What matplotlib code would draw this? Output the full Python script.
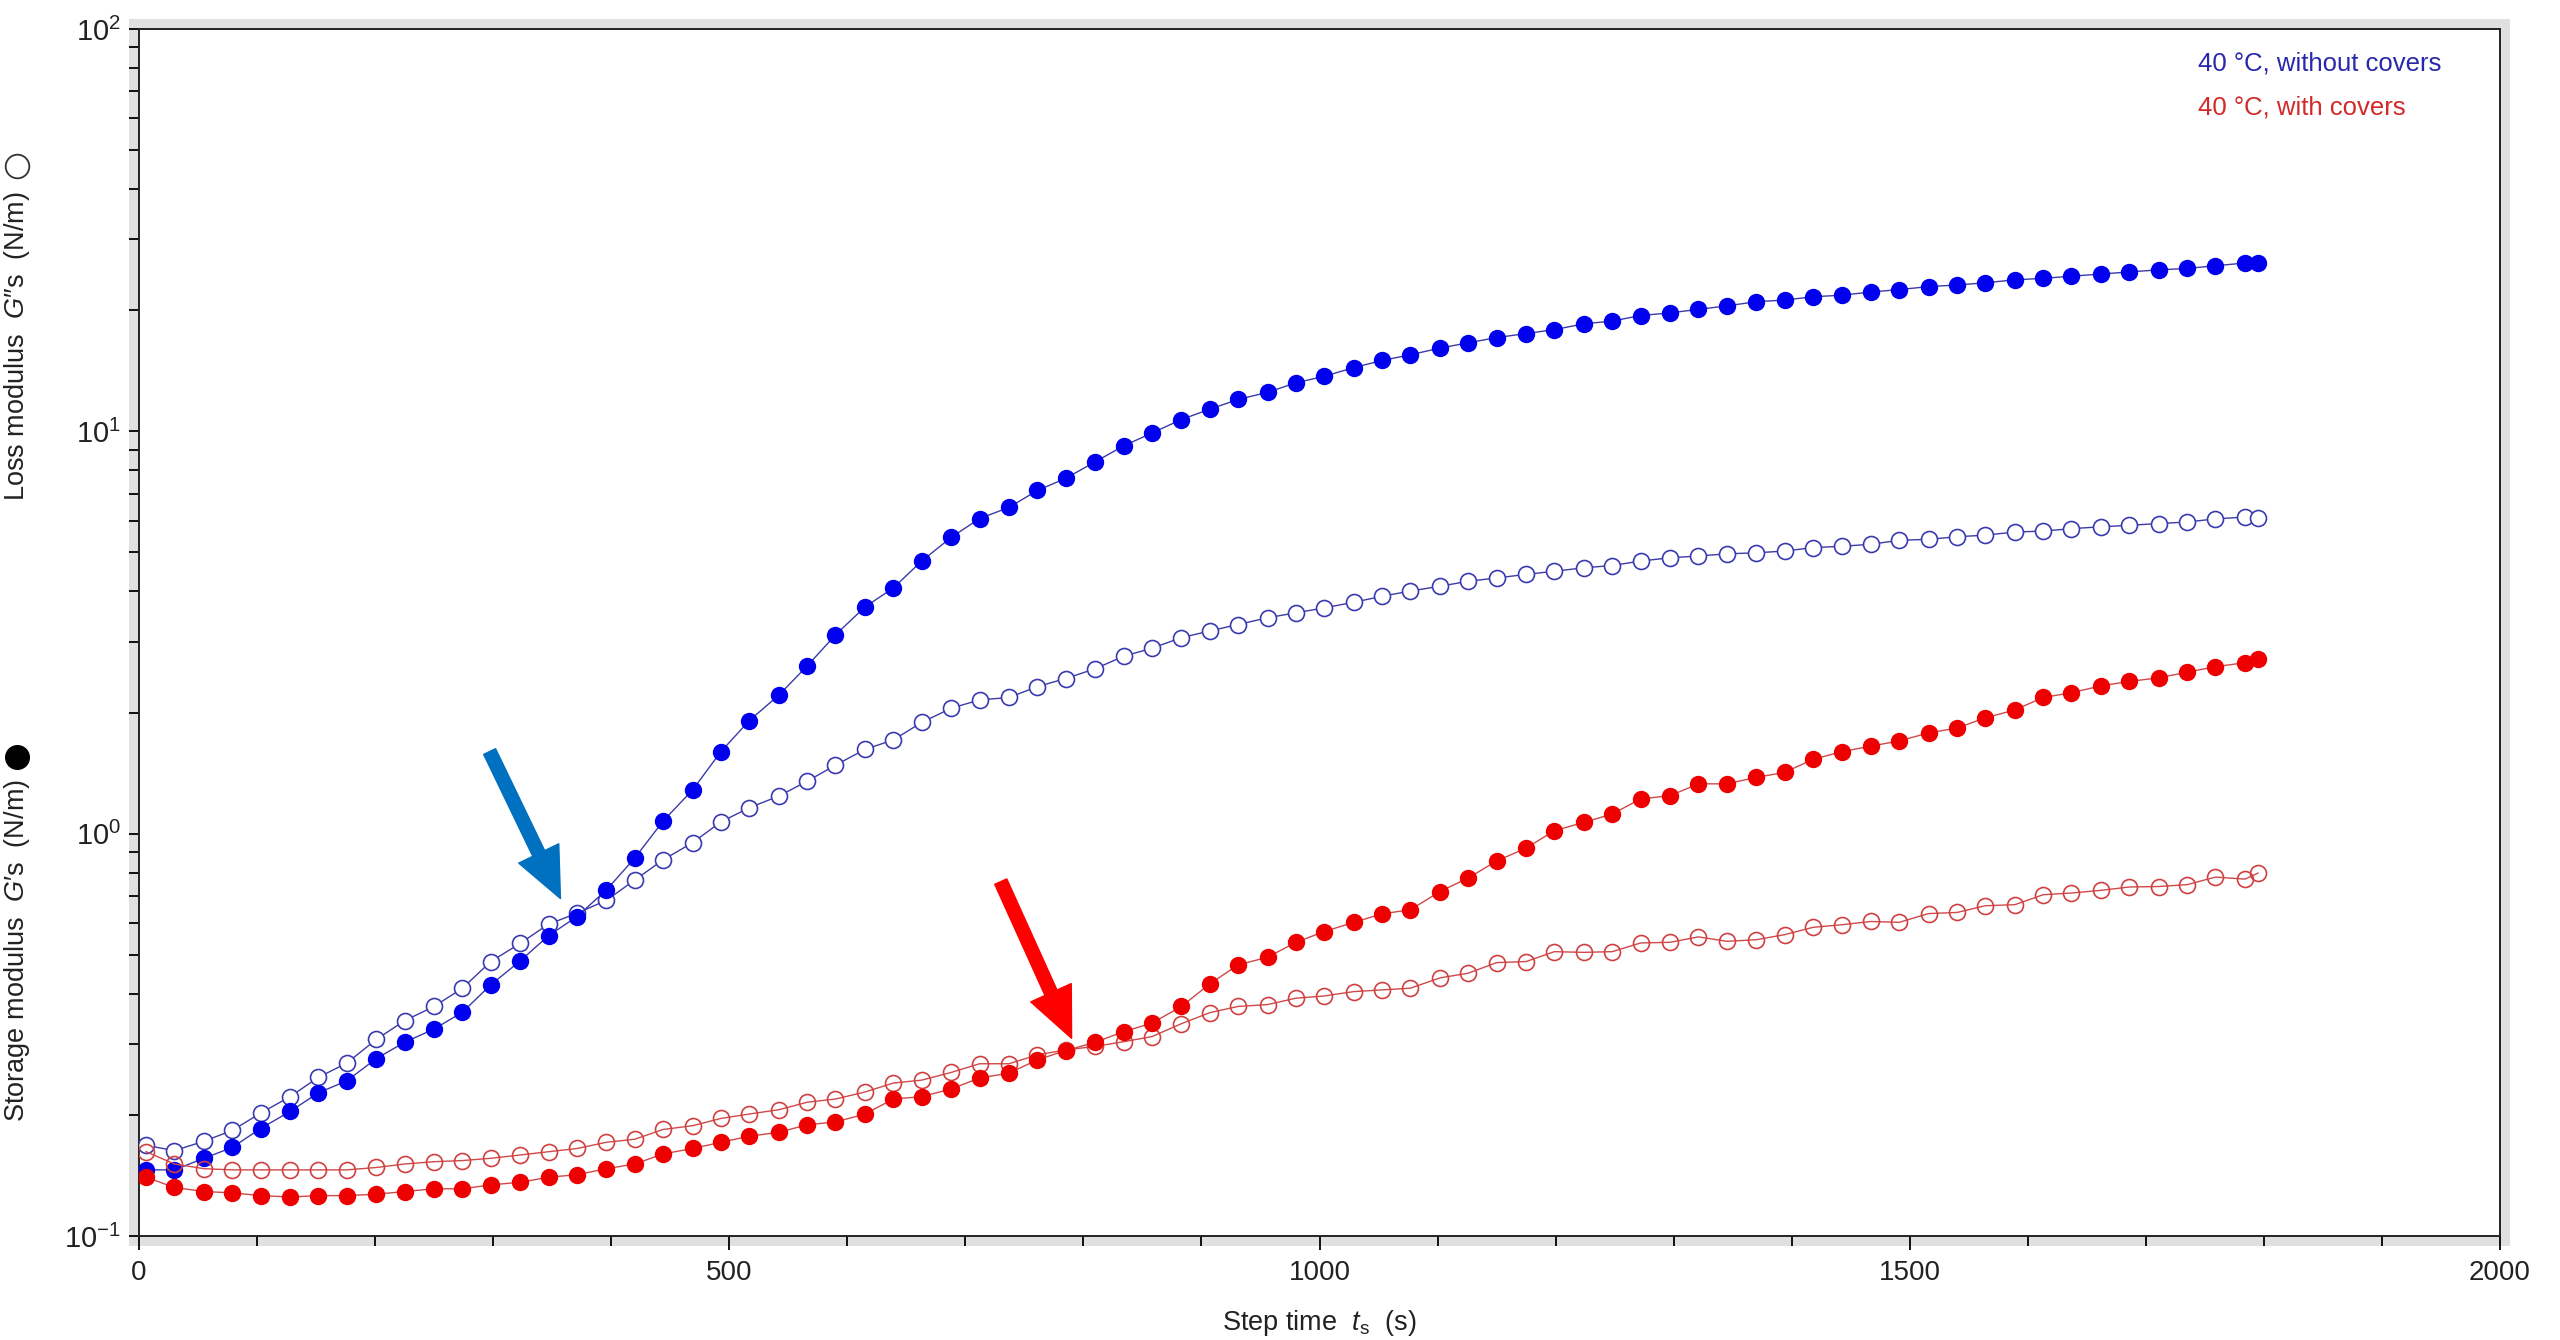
import math
import matplotlib
matplotlib.use('Agg')
import matplotlib.pyplot as plt
from matplotlib import font_manager
from matplotlib.patches import Rectangle, FancyArrowPatch, ArrowStyle
from matplotlib.lines import Line2D
from matplotlib.ticker import LogLocator, MultipleLocator, FixedLocator, FuncFormatter, NullFormatter

# step time (s)
t = [6, 30, 55, 79, 103, 128, 152, 176, 201, 225,
     250, 274, 298, 323, 347, 371, 396, 420, 444, 469,
     493, 517, 542, 566, 590, 615, 639, 663, 688, 712,
     737, 761, 785, 810, 834, 858, 883, 907, 931, 956,
     980, 1004, 1029, 1053, 1077, 1102, 1126, 1150, 1175, 1199,
     1224, 1248, 1272, 1297, 1321, 1345, 1370, 1394, 1418, 1443,
     1467, 1491, 1516, 1540, 1564, 1589, 1613, 1637, 1662, 1686,
     1711, 1735, 1759, 1784, 1795]

# 40 C without covers
blue_storage = [0.146, 0.146, 0.156, 0.166, 0.185, 0.204, 0.227, 0.243, 0.276, 0.303,
                0.327, 0.360, 0.421, 0.483, 0.558, 0.622, 0.725, 0.870, 1.075, 1.285,
                1.60, 1.91, 2.21, 2.61, 3.12, 3.66, 4.08, 4.76, 5.45, 6.07,
                6.47, 7.13, 7.64, 8.40, 9.2, 9.9, 10.7, 11.35, 12.0, 12.5,
                13.2, 13.7, 14.4, 15.0, 15.5, 16.1, 16.6, 17.1, 17.5, 17.9,
                18.5, 18.8, 19.4, 19.7, 20.1, 20.5, 21.0, 21.2, 21.6, 21.8,
                22.2, 22.5, 22.9, 23.1, 23.4, 23.8, 24.0, 24.3, 24.6, 24.9,
                25.2, 25.4, 25.8, 26.2, 26.2]
blue_loss = [0.168, 0.163, 0.172, 0.183, 0.202, 0.222, 0.248, 0.269, 0.308, 0.343,
             0.372, 0.413, 0.481, 0.534, 0.596, 0.634, 0.683, 0.767, 0.861, 0.950,
             1.07, 1.16, 1.24, 1.35, 1.48, 1.62, 1.71, 1.89, 2.05, 2.15,
             2.18, 2.32, 2.43, 2.57, 2.76, 2.89, 3.07, 3.19, 3.31, 3.44,
             3.54, 3.64, 3.76, 3.89, 4.01, 4.12, 4.24, 4.32, 4.41, 4.49,
             4.58, 4.64, 4.76, 4.85, 4.90, 4.96, 4.99, 5.04, 5.14, 5.18,
             5.24, 5.36, 5.39, 5.47, 5.52, 5.62, 5.65, 5.73, 5.79, 5.84,
             5.90, 5.95, 6.06, 6.12, 6.10]

# 40 C with covers
red_storage = [0.140, 0.132, 0.129, 0.128, 0.126, 0.125, 0.126, 0.126, 0.127, 0.129,
               0.131, 0.131, 0.134, 0.136, 0.140, 0.142, 0.147, 0.151, 0.160, 0.165,
               0.171, 0.177, 0.181, 0.189, 0.192, 0.201, 0.219, 0.222, 0.232, 0.247,
               0.254, 0.274, 0.289, 0.303, 0.322, 0.338, 0.372, 0.423, 0.472, 0.493,
               0.537, 0.571, 0.602, 0.632, 0.647, 0.718, 0.776, 0.855, 0.921, 1.017,
               1.067, 1.119, 1.22, 1.243, 1.33, 1.33, 1.38, 1.42, 1.53, 1.60,
               1.65, 1.70, 1.78, 1.83, 1.94, 2.03, 2.18, 2.24, 2.33, 2.39,
               2.44, 2.52, 2.60, 2.66, 2.72]
red_loss = [0.162, 0.151, 0.147, 0.146, 0.146, 0.146, 0.146, 0.146, 0.148, 0.151,
            0.153, 0.154, 0.156, 0.159, 0.162, 0.165, 0.171, 0.174, 0.184, 0.188,
            0.196, 0.201, 0.206, 0.215, 0.219, 0.228, 0.240, 0.244, 0.255, 0.268,
            0.268, 0.282, 0.290, 0.296, 0.304, 0.313, 0.337, 0.359, 0.372, 0.376,
            0.390, 0.395, 0.405, 0.409, 0.413, 0.438, 0.450, 0.478, 0.481, 0.509,
            0.507, 0.509, 0.535, 0.537, 0.554, 0.540, 0.545, 0.561, 0.585, 0.594,
            0.605, 0.602, 0.633, 0.637, 0.662, 0.666, 0.705, 0.712, 0.723, 0.737,
            0.739, 0.747, 0.780, 0.771, 0.798]

legend_labels = ['40 °C, without covers', '40 °C, with covers']

# arrows: (tail, tip) in data coords
blue_arrow = ((297, 1.6), (357, 0.69))
red_arrow = ((730, 0.76), (790, 0.31))

installed = {f.name for f in font_manager.fontManager.ttflist}
sans = 'Liberation Sans' if 'Liberation Sans' in installed else 'DejaVu Sans'
narrow = 'Liberation Sans Narrow' if 'Liberation Sans Narrow' in installed else sans

plt.rcParams['font.family'] = [sans, 'DejaVu Sans']
plt.rcParams['mathtext.fontset'] = 'custom'
plt.rcParams['mathtext.rm'] = narrow
plt.rcParams['mathtext.it'] = sans + ':italic'
plt.rcParams['mathtext.bf'] = sans + ':bold'

W, H = 2560, 1340
x0, x1, y0, y1 = 139, 2500, 29, 1236   # axes box in pixels (top-left origin)

fig = plt.figure(figsize=(W / 100, H / 100), dpi=100)
ax = fig.add_axes([x0 / W, 1 - y1 / H, (x1 - x0) / W, (y1 - y0) / H])

# grey shadow frame behind the plot
pad = 10
fig.patches.append(Rectangle(((x0 - pad) / W, 1 - (y1 + pad) / H),
                             (x1 - x0 + 2 * pad) / W, (y1 - y0 + 2 * pad) / H,
                             transform=fig.transFigure, facecolor='#e0e0e0',
                             edgecolor='none', zorder=0))
ax.set_zorder(1)

ms = 11.5
ax.plot(t, blue_loss, '-o', color='#3a3aa8', lw=1.0, ms=ms, mfc='white',
        mec='#3a3ab0', mew=1.2, zorder=3)
ax.plot(t, blue_storage, '-o', color='#3a3aa8', lw=1.0, ms=ms, mfc='#0000ee',
        mec='#0000ee', mew=1.0, zorder=4)
ax.plot(t, red_loss, '-o', color='#d04848', lw=1.0, ms=ms, mfc='none',
        mec='#d04040', mew=1.2, zorder=5)
ax.plot(t, red_storage, '-o', color='#d04848', lw=1.0, ms=ms, mfc='#ee0000',
        mec='#ee0000', mew=1.0, zorder=6)

style = ArrowStyle.Simple(head_length=36, head_width=32, tail_width=9.5)
for (tail, tip), col in [(blue_arrow, '#0070c0'), (red_arrow, '#ff0000')]:
    ax.add_patch(FancyArrowPatch(tail, tip, arrowstyle=style, mutation_scale=1,
                                 color=col, shrinkA=0, shrinkB=0, zorder=7))

ax.set_yscale('log')
ax.set_xlim(0, 2000)
ax.set_ylim(0.1, 100)

ax.xaxis.set_major_locator(MultipleLocator(500))
ax.xaxis.set_minor_locator(MultipleLocator(100))
ax.yaxis.set_major_locator(FixedLocator([0.1, 1, 10, 100]))
ax.yaxis.set_minor_locator(LogLocator(base=10, subs=range(2, 10)))
ax.yaxis.set_minor_formatter(NullFormatter())


def dec_fmt(v, pos):
    return r'$10^{%d}$' % int(round(math.log10(v)))


ax.yaxis.set_major_formatter(FuncFormatter(dec_fmt))
ax.xaxis.set_major_formatter(FuncFormatter(lambda v, p: '%d' % v))

ax.tick_params(axis='x', which='major', direction='out', length=10, width=1.3,
               pad=7, labelsize=20)
ax.tick_params(axis='x', which='minor', direction='out', length=7, width=1.3)
ax.tick_params(axis='y', which='both', direction='out', length=7, width=1.3,
               pad=6, labelsize=21)
for lab in ax.get_xticklabels() + ax.get_yticklabels():
    lab.set_fontfamily(narrow)
    lab.set_color('#222222')
for s in ax.spines.values():
    s.set_linewidth(1.4)
    s.set_color('#222222')

# axis titles
fig.text((x0 + x1) / 2 / W, 1 - 1323 / H, r'Step time  $\mathit{t}_{\mathrm{s}}$  (s)',
         ha='center', va='center', fontsize=19.5, color='#222222')
fig.text(17 / W, 1 - 950 / H, 'Storage modulus  $\\mathit{G}$\u2032s  (N/m)',
         rotation=90, ha='center', va='center', fontsize=19.5, color='#222222')
fig.text(17 / W, 1 - 346 / H, 'Loss modulus  $\\mathit{G}$\u2033s  (N/m)',
         rotation=90, ha='center', va='center', fontsize=19.5, color='#222222')
fig.add_artist(Line2D([17 / W], [1 - 757 / H], marker='o', ms=17, mfc='black',
                      mec='black', transform=fig.transFigure))
fig.add_artist(Line2D([17 / W], [1 - 166 / H], marker='o', ms=17, mfc='white',
                      mec='#333333', mew=1.3, transform=fig.transFigure))

# series labels
fig.text(2198 / W, 1 - 63 / H, legend_labels[0], ha='left', va='center',
         fontsize=18.5, color='#2828aa')
fig.text(2198 / W, 1 - 107 / H, legend_labels[1], ha='left', va='center',
         fontsize=18.5, color='#d22a2a')

fig.savefig('out.png', dpi=100)
